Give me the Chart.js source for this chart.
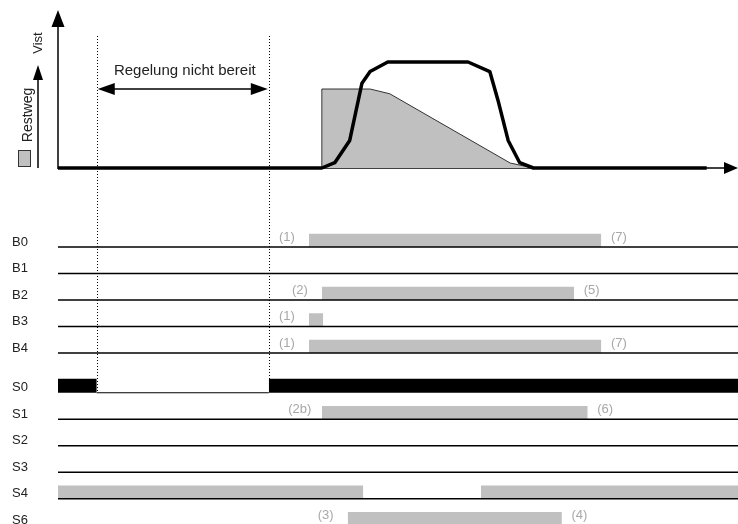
<!DOCTYPE html>
<html lang="de">
<head>
    <meta charset="UTF-8">
    <title>Zeitdiagramm Regelung</title>
    <script src="https://cdn.jsdelivr.net/npm/chart.js"></script>
    <style>
        body { margin: 0; background: #fff; }
        #wrap { position: relative; width: 738px; height: 524px; }
    </style>
</head>
<body>
    <div id="wrap"><canvas id="timingChart"></canvas></div>

    <script>
        // time axis runs 0..100 (arbitrary units)
        const T_END = 100;
        const notReadyFrom = 5.7;
        const notReadyTo = 31.0;

        // Restweg (grey area), normalised to peak Vist = 1
        const restwegT = [38.8, 38.8, 45.9, 48.8, 66.5, 69.9];
        const restwegV = [0, 0.745, 0.745, 0.70, 0.047, 0];

        // Vist (thick line)
        const vistT = [0, 38.8, 40.7, 42.9, 44.7, 45.9, 48.5, 60.3, 63.5, 64.7, 66.2, 67.9, 69.9, 95.4];
        const vistV = [0, 0, 0.05, 0.26, 0.80, 0.91, 1.0, 1.0, 0.91, 0.64, 0.26, 0.05, 0, 0];

        // signal rows
        const rowNames = ['B0', 'B1', 'B2', 'B3', 'B4', 'S0', 'S1', 'S2', 'S3', 'S4', 'S6'];
        const rowPos = [0, 1, 2, 3, 4, 5.5, 6.5, 7.5, 8.5, 9.5, 10.5];

        // grey "active" bars
        const barRow = ['B0', 'B2', 'B3', 'B4', 'S1', 'S4', 'S4', 'S6'];
        const barStart = [36.9, 38.8, 36.9, 36.9, 38.8, 0, 62.2, 42.6];
        const barEnd = [79.9, 75.9, 39.0, 79.9, 77.9, 44.9, T_END, 74.1];
        const noteBefore = ['(1)', '(2)', '(1)', '(1)', '(2b)', '', '', '(3)'];
        const noteAfter = ['(7)', '(5)', '', '(7)', '(6)', '', '', '(4)'];

        // S0 black bars (controller ready)
        const s0Start = [0, notReadyTo];
        const s0End = [notReadyFrom, T_END];

        // layout
        const W = 738, H = 524, LEFT = 58;
        const V0_PX = 168, V1_PX = 62;
        const ROW0_PX = 247, ROW_PX = 26.5;
        const vMax = V0_PX / (V0_PX - V1_PX);
        const vMin = vMax - H / (V0_PX - V1_PX);
        const rMin = -ROW0_PX / ROW_PX;
        const rMax = rMin + H / ROW_PX;
        const GREY = '#c0c0c0';
        const NOTE = '#a8a8a8';
        const FONT = 'Arial, "Liberation Sans", sans-serif';

        const rowOf = name => rowPos[rowNames.indexOf(name)];
        const pts = (xs, ys) => xs.map((x, i) => ({x: x, y: ys[i]}));

        const datasets = [];

        // row baselines
        rowNames.forEach((name, i) => {
            const r = rowPos[i];
            const xs = name === 'S0' ? [notReadyFrom, notReadyTo] : [0, T_END];
            datasets.push({
                data: pts(xs, [r, r]), yAxisID: 'rows', borderColor: '#000',
                borderWidth: name === 'S0' ? 1 : 1.5, pointRadius: 0, fill: false, order: 1
            });
        });

        // grey bars
        barRow.forEach((name, i) => {
            const r = rowOf(name);
            datasets.push({
                data: pts([barStart[i], barEnd[i]], [r - 0.5, r - 0.5]), yAxisID: 'rows',
                borderWidth: 0, pointRadius: 0, backgroundColor: GREY,
                fill: {value: r}, order: 2
            });
        });

        // S0 black bars
        s0Start.forEach((s, i) => {
            const r = rowOf('S0');
            datasets.push({
                data: pts([s, s0End[i]], [r - 0.53, r - 0.53]), yAxisID: 'rows',
                borderWidth: 0, pointRadius: 0, backgroundColor: '#000',
                fill: {value: r}, order: 2
            });
        });

        // Restweg area
        datasets.push({
            data: pts(restwegT, restwegV), yAxisID: 'v', borderColor: '#333', borderWidth: 1,
            backgroundColor: GREY, fill: {value: 0}, pointRadius: 0, order: 3
        });

        // Vist line
        datasets.push({
            data: pts(vistT, vistV), yAxisID: 'v', borderColor: '#000', borderWidth: 3.5,
            borderJoinStyle: 'round', fill: false, pointRadius: 0, order: 0
        });

        function arrowHead(ctx, x, y, dir, len, half) {
            ctx.beginPath();
            if (dir === 'up') { ctx.moveTo(x, y); ctx.lineTo(x - half, y + len); ctx.lineTo(x + half, y + len); }
            if (dir === 'right') { ctx.moveTo(x, y); ctx.lineTo(x - len, y - half); ctx.lineTo(x - len, y + half); }
            if (dir === 'left') { ctx.moveTo(x, y); ctx.lineTo(x + len, y - half); ctx.lineTo(x + len, y + half); }
            ctx.closePath();
            ctx.fill();
        }

        const axesPlugin = {
            id: 'axesDecor',
            beforeDatasetsDraw(chart) {
                const ctx = chart.ctx;
                const xs = chart.scales.x, vs = chart.scales.v;
                const y0 = vs.getPixelForValue(0);
                ctx.save();
                ctx.strokeStyle = '#000';
                ctx.fillStyle = '#000';
                ctx.lineWidth = 1.5;
                // x axis
                ctx.beginPath();
                ctx.moveTo(xs.left, y0);
                ctx.lineTo(xs.right - 12, y0);
                ctx.stroke();
                arrowHead(ctx, xs.right, y0, 'right', 14, 6);
                // y axis
                ctx.beginPath();
                ctx.moveTo(xs.left, y0 + 1);
                ctx.lineTo(xs.left, 24);
                ctx.stroke();
                arrowHead(ctx, xs.left, 10, 'up', 17, 6.5);
                ctx.restore();
            },
            afterDraw(chart) {
                const ctx = chart.ctx;
                const xs = chart.scales.x, vs = chart.scales.v, rs = chart.scales.rows;
                ctx.save();

                // dotted markers for "Regelung nicht bereit"
                ctx.strokeStyle = '#000';
                ctx.lineWidth = 1;
                ctx.setLineDash([1, 2]);
                [notReadyFrom, notReadyTo].forEach(t => {
                    const px = Math.round(xs.getPixelForValue(t)) + 0.5;
                    ctx.beginPath();
                    ctx.moveTo(px, 36);
                    ctx.lineTo(px, rs.getPixelForValue(rowOf('S0')));
                    ctx.stroke();
                });
                ctx.setLineDash([]);

                // double arrow
                const ax0 = xs.getPixelForValue(notReadyFrom), ax1 = xs.getPixelForValue(notReadyTo);
                const ay = 89;
                ctx.fillStyle = '#000';
                ctx.lineWidth = 1.5;
                ctx.beginPath();
                ctx.moveTo(ax0 + 10, ay);
                ctx.lineTo(ax1 - 10, ay);
                ctx.stroke();
                arrowHead(ctx, ax0 + 1, ay, 'left', 17, 6);
                arrowHead(ctx, ax1 - 1, ay, 'right', 17, 6);

                ctx.font = '15px ' + FONT;
                ctx.textAlign = 'center';
                ctx.textBaseline = 'middle';
                ctx.fillStyle = '#222';
                ctx.fillText('Regelung nicht bereit', (ax0 + ax1) / 2 + 2, 71);

                // left axis labels: Vist and Restweg
                ctx.lineWidth = 1.5;
                ctx.strokeStyle = '#000';
                ctx.fillStyle = '#000';
                ctx.beginPath();
                ctx.moveTo(38, vs.getPixelForValue(0));
                ctx.lineTo(38, 78);
                ctx.stroke();
                arrowHead(ctx, 38, 65, 'up', 15, 5);

                ctx.fillStyle = '#222';
                ctx.font = '13px ' + FONT;
                ctx.save();
                ctx.translate(38, 43);
                ctx.rotate(-Math.PI / 2);
                ctx.fillText('Vist', 0, 0);
                ctx.restore();
                ctx.save();
                ctx.translate(28, 115);
                ctx.rotate(-Math.PI / 2);
                ctx.font = '14px ' + FONT;
                ctx.fillText('Restweg', 0, 0);
                ctx.restore();

                ctx.fillStyle = GREY;
                ctx.strokeStyle = '#333';
                ctx.lineWidth = 1;
                ctx.fillRect(18.5, 150.5, 12, 16);
                ctx.strokeRect(18.5, 150.5, 12, 16);

                // row names
                ctx.fillStyle = '#222';
                ctx.font = '13px ' + FONT;
                ctx.textAlign = 'left';
                rowNames.forEach((name, i) => {
                    ctx.fillText(name, 12, rs.getPixelForValue(rowPos[i]) - 5);
                });

                // bar notes
                ctx.fillStyle = NOTE;
                ctx.font = '13px ' + FONT;
                ctx.textAlign = 'center';
                barRow.forEach((name, i) => {
                    const y = rs.getPixelForValue(rowOf(name)) - 10;
                    if (noteBefore[i]) ctx.fillText(noteBefore[i], xs.getPixelForValue(barStart[i]) - 22, y);
                    if (noteAfter[i]) ctx.fillText(noteAfter[i], xs.getPixelForValue(barEnd[i]) + 17.5, y);
                });

                ctx.restore();
            }
        };

        new Chart(document.getElementById('timingChart'), {
            type: 'line',
            data: {datasets: datasets},
            options: {
                responsive: true,
                maintainAspectRatio: false,
                animation: false,
                events: [],
                layout: {padding: {left: LEFT, right: 0, top: 0, bottom: 0}},
                plugins: {legend: {display: false}, tooltip: {enabled: false}},
                scales: {
                    x: {type: 'linear', min: 0, max: T_END, display: false},
                    v: {type: 'linear', position: 'left', min: vMin, max: vMax, display: false},
                    rows: {type: 'linear', position: 'left', reverse: true, min: rMin, max: rMax, display: false}
                }
            },
            plugins: [axesPlugin]
        });
    </script>
</body>
</html>
